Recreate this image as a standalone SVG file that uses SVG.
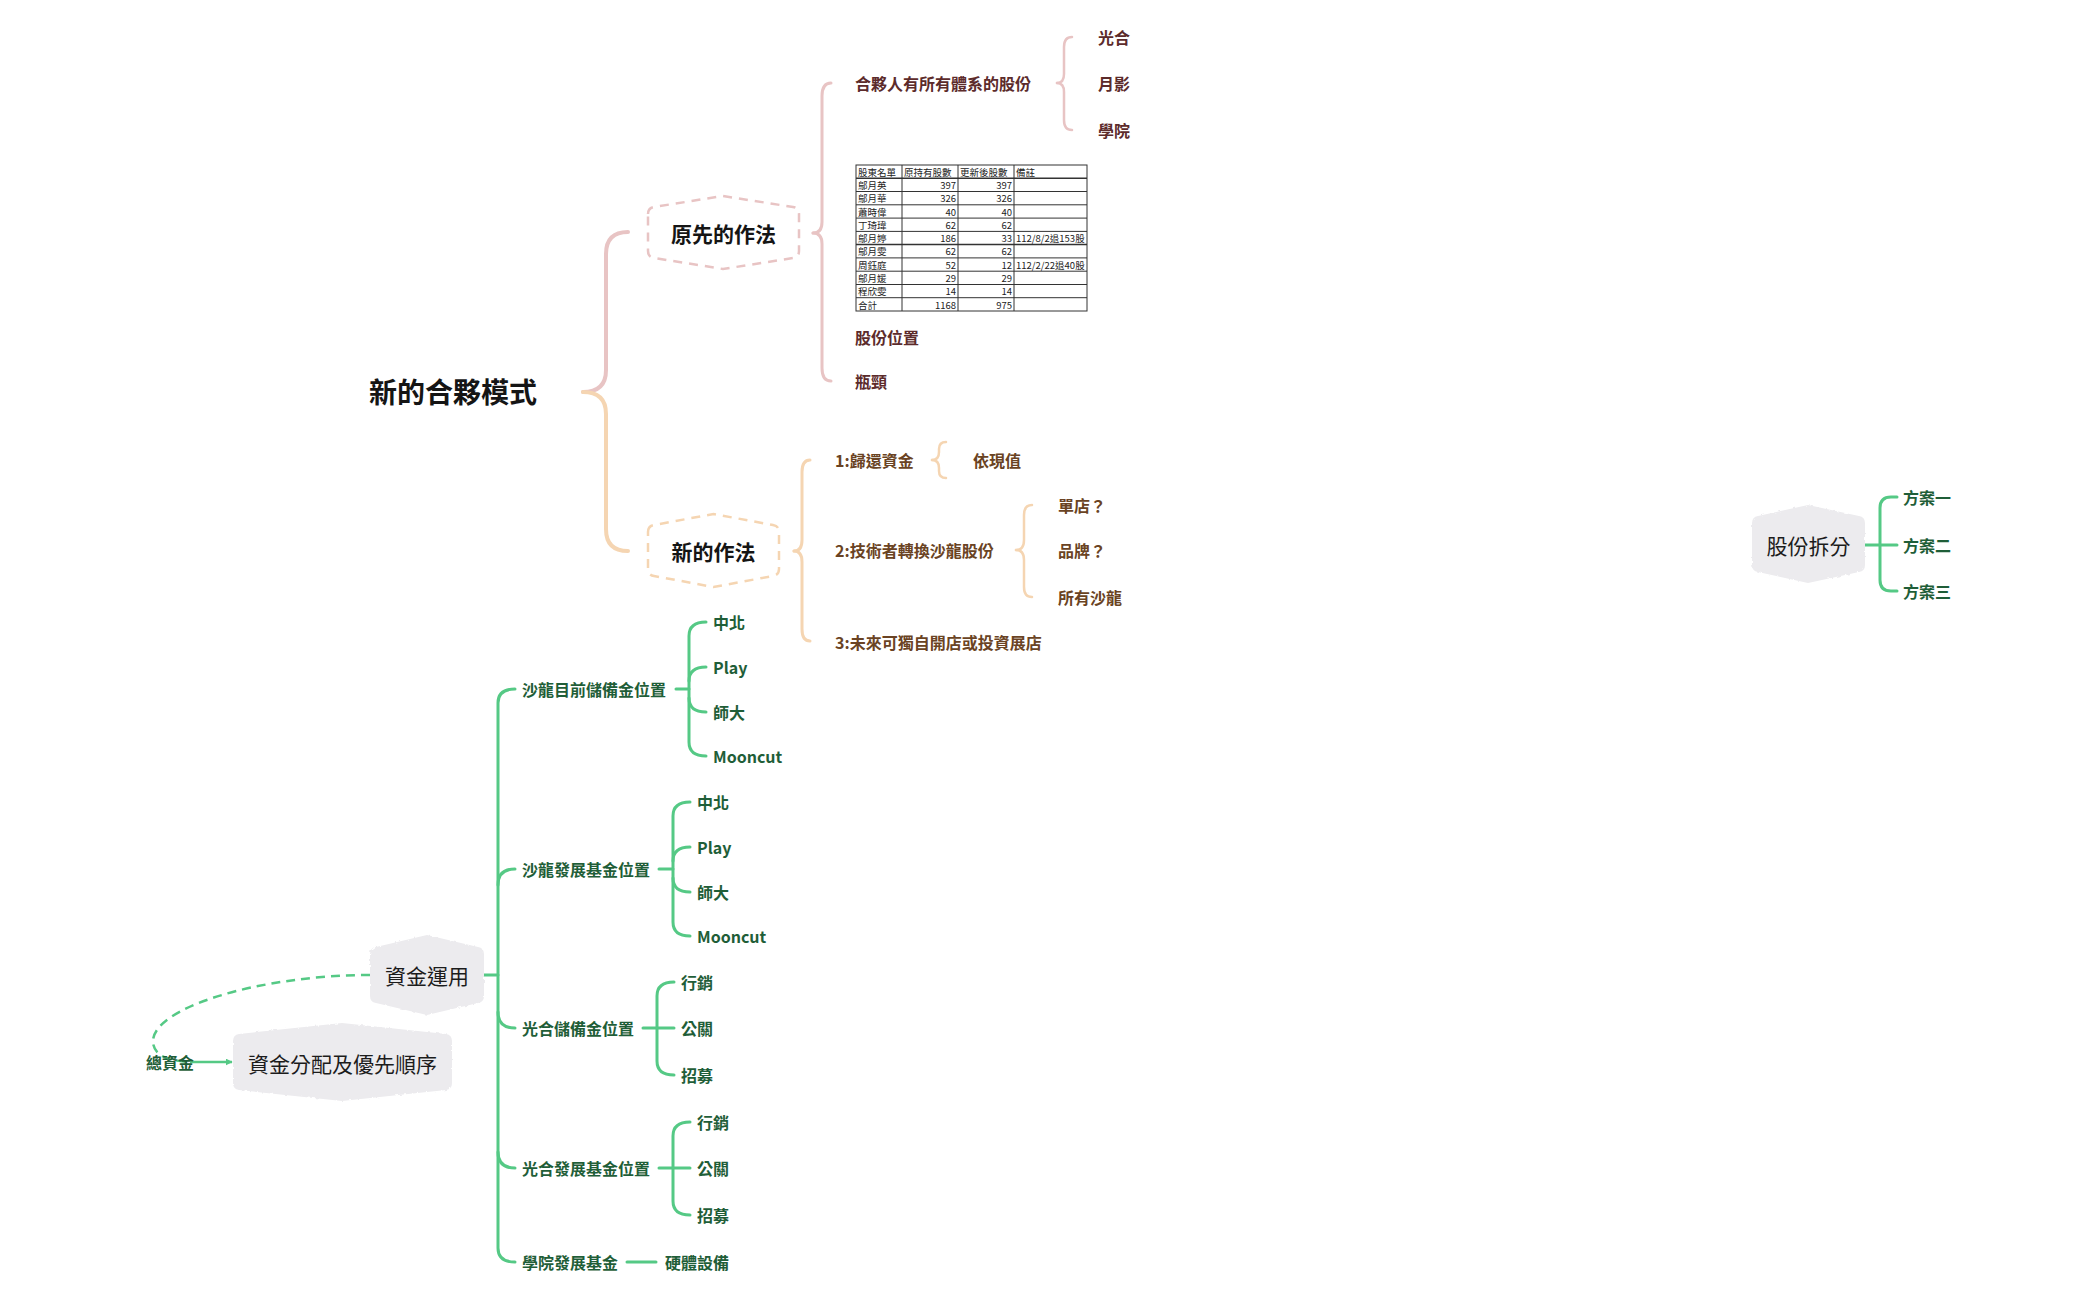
<svg xmlns="http://www.w3.org/2000/svg" width="2098" height="1300" viewBox="0 0 2098 1300">
<defs>
<style>
text{font-family:"Noto Sans CJK TC","Noto Sans",sans-serif;dominant-baseline:central}
.root{font-size:28px;font-weight:700;fill:#151515}
.sub{font-size:21px;font-weight:700;fill:#151515}
.gtxt{font-size:21px;font-weight:400;fill:#1c1c1c}
.t1{font-size:16px;font-weight:700;fill:#5c2b2b}
.t2{font-size:16px;font-weight:700;fill:#6a4323}
.tg{font-size:16px;font-weight:700;fill:#1f5e38}
.pk{fill:none;stroke:#e8c4c4;stroke-linecap:round}
.pc{fill:none;stroke:#f5d5b2;stroke-linecap:round}
.gr{fill:none;stroke:#55c985;stroke-width:3;stroke-linecap:round}
.dpk{fill:#fff;stroke:#e8c4c4;stroke-width:2.5;stroke-dasharray:9 7}
.dpc{fill:#fff;stroke:#f5d5b2;stroke-width:2.5;stroke-dasharray:9 7}
.gnode{fill:#ecebee;filter:url(#rough)}
.tb{font-size:9.5px;fill:#222}
.tl{stroke:#333;stroke-width:1}
</style>
<filter id="rough" x="-5%" y="-5%" width="110%" height="110%">
<feTurbulence type="fractalNoise" baseFrequency="0.25" numOctaves="2" seed="3"/>
<feDisplacementMap in="SourceGraphic" scale="3"/>
</filter>
<marker id="arr" viewBox="0 0 10 10" refX="9" refY="5" markerWidth="7" markerHeight="7" markerUnits="userSpaceOnUse" orient="auto">
<path d="M0,0 L10,5 L0,10 Z" fill="#55c985"/>
</marker>
</defs>
<rect width="2098" height="1300" fill="#fff"/>

<g id="connectors">
<!-- root bracket -->
<path class="pk" stroke-width="4" d="M583,392 Q606,392 606,370 L606,254 Q606,232 628,232"/>
<path class="pc" stroke-width="4" d="M583,392 Q606,392 606,414 L606,529 Q606,551 628,551"/>
<!-- 原先的作法 bracket -->
<path class="pk" stroke-width="3" d="M813,233 Q822,233 822,222 L822,96 Q822,83 831,83"/>
<path class="pk" stroke-width="3" d="M813,233 Q822,233 822,244 L822,368 Q822,381 831,381"/>
<!-- 合夥人 sub bracket -->
<path class="pk" stroke-width="2.5" d="M1057,83 Q1064,83 1064,74 L1064,47 Q1064,37 1072,37"/>
<path class="pk" stroke-width="2.5" d="M1057,83 Q1064,83 1064,92 L1064,120 Q1064,130 1072,130"/>
<!-- 新的作法 bracket -->
<path class="pc" stroke-width="3" d="M794,551 Q802,551 802,540 L802,472 Q802,460 810,460"/>
<path class="pc" stroke-width="3" d="M794,551 Q802,551 802,562 L802,629 Q802,641 810,641"/>
<!-- 1: bracket -->
<path class="pc" stroke-width="2.5" d="M932,460 Q939,460 939,452 L939,449 Q939,442 946,442"/>
<path class="pc" stroke-width="2.5" d="M932,460 Q939,460 939,468 L939,471 Q939,478 946,478"/>
<!-- 2: bracket -->
<path class="pc" stroke-width="2.5" d="M1016,550 Q1024,550 1024,540 L1024,515 Q1024,505 1032,505"/>
<path class="pc" stroke-width="2.5" d="M1016,550 Q1024,550 1024,560 L1024,587 Q1024,597 1032,597"/>
<!-- 股份拆分 -->
<path class="gr" d="M1865,545 L1897,545"/>
<path class="gr" d="M1897,497 L1891,497 Q1880,497 1880,508 L1880,580 Q1880,591 1891,591 L1897,591"/>
<!-- 資金運用 trunk -->
<path class="gr" d="M484,975 L498,975"/>
<path class="gr" d="M515,689 Q498,689 498,703 L498,1248 Q498,1262 515,1262"/>
<path class="gr" d="M515,869 Q498,869 498,885"/>
<path class="gr" d="M515,1028 Q498,1028 498,1012"/>
<path class="gr" d="M515,1168 Q498,1168 498,1152"/>
<!-- 沙龍目前儲備金位置 children -->
<path class="gr" d="M676,689 L689,689"/>
<path class="gr" d="M706,622 Q689,622 689,636 L689,742 Q689,756 706,756"/>
<path class="gr" d="M706,667 Q689,667 689,681"/>
<path class="gr" d="M706,712 Q689,712 689,698"/>
<!-- 沙龍發展基金位置 children -->
<path class="gr" d="M659,869 L673,869"/>
<path class="gr" d="M690,802 Q673,802 673,816 L673,922 Q673,936 690,936"/>
<path class="gr" d="M690,847 Q673,847 673,861"/>
<path class="gr" d="M690,892 Q673,892 673,878"/>
<!-- 光合儲備金位置 children -->
<path class="gr" d="M643,1028 L674,1028"/>
<path class="gr" d="M674,982 Q657,982 657,996 L657,1061 Q657,1075 674,1075"/>
<!-- 光合發展基金位置 children -->
<path class="gr" d="M659,1168 L690,1168"/>
<path class="gr" d="M690,1122 Q673,1122 673,1136 L673,1201 Q673,1215 690,1215"/>
<!-- 學院發展基金 -->
<path class="gr" d="M627,1262 L656,1262"/>
<!-- relationship 資金運用 -> 資金分配及優先順序 -->
<path d="M370,975 C260,975 150,1008 153,1043 C155,1056 168,1061 190,1062" fill="none" stroke="#55c985" stroke-width="2.5" stroke-dasharray="9 6"/>
<path d="M190,1062 L232,1062" fill="none" stroke="#55c985" stroke-width="2.5" marker-end="url(#arr)"/>
</g>

<g id="root">
<text class="root" x="369" y="391">新的合夥模式</text>
</g>

<g id="node-yuanxian">
<path class="dpk" d="M648,214 Q648,208 654,207 L723,196 L793,207 Q799,208 799,214 L799,251 Q799,257 793,258 L723,269 L654,258 Q648,257 648,251 Z"/>
<text class="sub" x="723.5" y="233" text-anchor="middle">原先的作法</text>
</g>

<g id="node-hehuoren"><text class="t1" x="855" y="83">合夥人有所有體系的股份</text></g>
<g id="node-guanghe1"><text class="t1" x="1098" y="37">光合</text></g>
<g id="node-yueying"><text class="t1" x="1098" y="83">月影</text></g>
<g id="node-xueyuan1"><text class="t1" x="1098" y="130">學院</text></g>

<g id="node-table">
<rect x="856" y="165" width="231" height="146" fill="#fff" stroke="#333" stroke-width="1"/>
<g class="tl">
<line x1="856" y1="178.3" x2="1087" y2="178.3" stroke-width="1.5"/>
<line x1="856" y1="191.5" x2="1087" y2="191.5"/>
<line x1="856" y1="204.8" x2="1087" y2="204.8"/>
<line x1="856" y1="218.1" x2="1087" y2="218.1"/>
<line x1="856" y1="231.4" x2="1087" y2="231.4"/>
<line x1="856" y1="244.6" x2="1087" y2="244.6" stroke-width="1.5"/>
<line x1="856" y1="257.9" x2="1087" y2="257.9"/>
<line x1="856" y1="271.2" x2="1087" y2="271.2"/>
<line x1="856" y1="284.5" x2="1087" y2="284.5"/>
<line x1="856" y1="297.7" x2="1087" y2="297.7"/>
<line x1="902" y1="165" x2="902" y2="311"/>
<line x1="958" y1="165" x2="958" y2="311"/>
<line x1="1014" y1="165" x2="1014" y2="311"/>
</g>
<g class="tb">
<text x="858" y="172">股東名單</text><text x="904" y="172">原持有股數</text><text x="960" y="172">更新後股數</text><text x="1016" y="172">備註</text>
<text x="858" y="185">鄔月英</text><text x="956" y="185" text-anchor="end">397</text><text x="1012" y="185" text-anchor="end">397</text>
<text x="858" y="198">鄔月華</text><text x="956" y="198" text-anchor="end">326</text><text x="1012" y="198" text-anchor="end">326</text>
<text x="858" y="211.5">蕭時偉</text><text x="956" y="211.5" text-anchor="end">40</text><text x="1012" y="211.5" text-anchor="end">40</text>
<text x="858" y="225">丁琦瑋</text><text x="956" y="225" text-anchor="end">62</text><text x="1012" y="225" text-anchor="end">62</text>
<text x="858" y="238">鄔月婷</text><text x="956" y="238" text-anchor="end">186</text><text x="1012" y="238" text-anchor="end">33</text><text x="1016" y="238">112/8/2退153股</text>
<text x="858" y="251">鄔月雯</text><text x="956" y="251" text-anchor="end">62</text><text x="1012" y="251" text-anchor="end">62</text>
<text x="858" y="264.5">周鈺庭</text><text x="956" y="264.5" text-anchor="end">52</text><text x="1012" y="264.5" text-anchor="end">12</text><text x="1016" y="264.5">112/2/22退40股</text>
<text x="858" y="278">鄔月媛</text><text x="956" y="278" text-anchor="end">29</text><text x="1012" y="278" text-anchor="end">29</text>
<text x="858" y="291">程欣雯</text><text x="956" y="291" text-anchor="end">14</text><text x="1012" y="291" text-anchor="end">14</text>
<text x="858" y="304.5">合計</text><text x="956" y="304.5" text-anchor="end">1168</text><text x="1012" y="304.5" text-anchor="end">975</text>
</g>
</g>
<g id="node-gufen-weizhi"><text class="t1" x="855" y="337">股份位置</text></g>
<g id="node-pingjing"><text class="t1" x="855" y="381">瓶頸</text></g>

<g id="node-xinde">
<path class="dpc" d="M648,532 Q648,526 654,525 L713.5,514 L773,525 Q779,526 779,532 L779,569 Q779,575 773,576 L713.5,587 L654,576 Q648,575 648,569 Z"/>
<text class="sub" x="713.5" y="551" text-anchor="middle">新的作法</text>
</g>
<g id="node-n1"><text class="t2" x="835" y="460">1:歸還資金</text></g>
<g id="node-yixianzhi"><text class="t2" x="973" y="460">依現值</text></g>
<g id="node-n2"><text class="t2" x="835" y="550">2:技術者轉換沙龍股份</text></g>
<g id="node-dandian"><text class="t2" x="1058" y="505">單店？</text></g>
<g id="node-pinpai"><text class="t2" x="1058" y="550">品牌？</text></g>
<g id="node-suoyou"><text class="t2" x="1058" y="597">所有沙龍</text></g>
<g id="node-n3"><text class="t2" x="835" y="642">3:未來可獨自開店或投資展店</text></g>

<g id="node-gufen-chaifen">
<path class="gnode" d="M1752,523 Q1752,517 1758,516 L1808,505 L1859,516 Q1865,517 1865,523 L1865,565 Q1865,571 1859,572 L1808,583 L1758,572 Q1752,571 1752,565 Z"/>
<text class="gtxt" x="1808.5" y="545" text-anchor="middle">股份拆分</text>
</g>
<g id="node-fangan1"><text class="tg" x="1903" y="497">方案一</text></g>
<g id="node-fangan2"><text class="tg" x="1903" y="545">方案二</text></g>
<g id="node-fangan3"><text class="tg" x="1903" y="591">方案三</text></g>

<g id="node-zijin-yunyong">
<path class="gnode" d="M370,954 Q370,948 376,947 L427,935 L478,947 Q484,948 484,954 L484,996 Q484,1002 478,1003 L427,1015 L376,1003 Q370,1002 370,996 Z"/>
<text class="gtxt" x="427" y="975" text-anchor="middle">資金運用</text>
</g>
<g id="node-zijin-fenpei">
<path class="gnode" d="M233,1041 Q233,1035 239,1034 L342,1023 L446,1034 Q452,1035 452,1041 L452,1083 Q452,1089 446,1090 L342,1101 L239,1090 Q233,1089 233,1083 Z"/>
<text class="gtxt" x="342.5" y="1063" text-anchor="middle">資金分配及優先順序</text>
</g>
<g id="label-zongzijin"><text class="tg" x="146" y="1062">總資金</text></g>

<g id="node-shalong-chubei"><text class="tg" x="522" y="689">沙龍目前儲備金位置</text></g>
<g id="node-a1"><text class="tg" x="713" y="622">中北</text></g>
<g id="node-a2"><text class="tg" x="713" y="667">Play</text></g>
<g id="node-a3"><text class="tg" x="713" y="712">師大</text></g>
<g id="node-a4"><text class="tg" x="713" y="756">Mooncut</text></g>

<g id="node-shalong-fazhan"><text class="tg" x="522" y="869">沙龍發展基金位置</text></g>
<g id="node-b1"><text class="tg" x="697" y="802">中北</text></g>
<g id="node-b2"><text class="tg" x="697" y="847">Play</text></g>
<g id="node-b3"><text class="tg" x="697" y="892">師大</text></g>
<g id="node-b4"><text class="tg" x="697" y="936">Mooncut</text></g>

<g id="node-guanghe-chubei"><text class="tg" x="522" y="1028">光合儲備金位置</text></g>
<g id="node-c1"><text class="tg" x="681" y="982">行銷</text></g>
<g id="node-c2"><text class="tg" x="681" y="1028">公關</text></g>
<g id="node-c3"><text class="tg" x="681" y="1075">招募</text></g>

<g id="node-guanghe-fazhan"><text class="tg" x="522" y="1168">光合發展基金位置</text></g>
<g id="node-d1"><text class="tg" x="697" y="1122">行銷</text></g>
<g id="node-d2"><text class="tg" x="697" y="1168">公關</text></g>
<g id="node-d3"><text class="tg" x="697" y="1215">招募</text></g>

<g id="node-xueyuan-fazhan"><text class="tg" x="522" y="1262">學院發展基金</text></g>
<g id="node-yingti"><text class="tg" x="665" y="1262">硬體設備</text></g>
</svg>
